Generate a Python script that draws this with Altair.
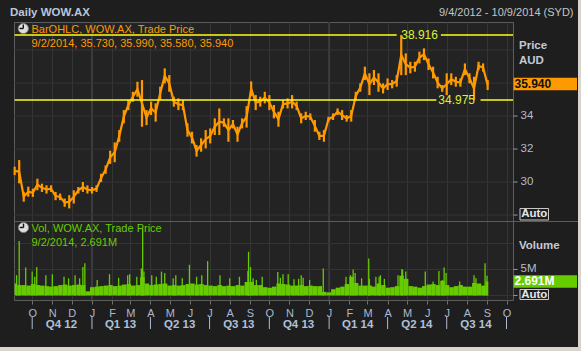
import altair as alt
import pandas as pd

# ---------------- data ----------------
first_week = "2012-09-04"   # weekly sampling of the daily OHLC bars
price_low = [30.42, 29.92, 28.81, 29.11, 29.10, 29.50, 29.40, 29.30, 29.40, 28.90,
             28.90, 28.50, 28.40, 28.70, 29.30, 29.40, 29.30, 29.30, 29.40, 30.00,
             30.50, 31.10, 31.20, 32.44, 33.56, 34.36, 34.87, 35.17, 33.35, 33.45,
             34.06, 33.66, 34.97, 35.98, 35.47, 34.57, 34.36, 34.36, 32.75, 32.34,
             31.54, 31.84, 32.04, 32.34, 32.85, 32.85, 33.35, 32.44, 33.25, 32.44,
             33.25, 33.30, 35.20, 34.36, 34.57, 34.77, 34.36, 33.86, 33.35, 34.46,
             34.46, 34.46, 34.36, 33.56, 33.76, 33.76, 33.05, 32.55, 32.44, 33.66,
             33.76, 34.06, 33.76, 33.66, 33.66, 34.97, 35.47, 36.18, 35.27, 35.88,
             35.47, 35.37, 35.58, 35.68, 35.78, 36.48, 36.48, 36.59, 36.69, 37.19,
             37.39, 36.79, 36.28, 35.68, 35.47, 35.27, 35.88, 35.78, 35.78, 36.48,
             35.98, 34.975, 36.79, 36.69, 35.58]
price_high = [30.93, 31.33, 29.41, 29.72, 29.60, 30.20, 29.90, 29.80, 29.80, 29.40,
              29.30, 29.00, 29.20, 29.50, 29.70, 30.00, 29.80, 29.70, 29.80, 30.50,
              31.00, 31.90, 32.40, 33.15, 34.36, 34.97, 35.47, 36.08, 36.18, 34.36,
              34.87, 34.77, 35.78, 36.89, 36.48, 35.17, 35.07, 34.97, 33.56, 33.05,
              32.24, 32.65, 33.15, 33.25, 33.86, 34.46, 33.86, 33.86, 33.76, 33.35,
              33.86, 34.60, 36.10, 35.27, 35.17, 35.47, 35.27, 34.67, 34.26, 34.97,
              35.07, 35.27, 34.87, 34.16, 34.26, 34.16, 33.76, 33.05, 33.15, 33.96,
              34.16, 34.46, 34.36, 34.06, 34.36, 35.47, 35.98, 36.99, 36.59, 36.79,
              36.59, 35.98, 36.28, 36.18, 36.48, 38.916, 37.80, 37.29, 37.29, 37.90,
              38.10, 37.49, 36.99, 36.38, 35.88, 36.59, 36.59, 36.38, 36.28, 37.19,
              36.59, 36.38, 37.29, 37.19, 36.18]
vol_week = [2.3, 2.0, 2.0, 1.9, 2.2, 2.0, 1.9, 1.8, 1.7, 1.8,
            2.0, 2.1, 1.9, 2.0, 2.1, 2.0, 0.8, 1.6, 1.7, 1.8,
            1.9, 2.0, 1.8, 1.9, 2.1, 2.2, 1.9, 2.0, 3.5, 2.3,
            2.0, 2.1, 2.2, 2.3, 1.9, 2.0, 1.9, 2.0, 2.2, 2.3,
            2.1, 2.2, 2.0, 1.9, 1.8, 2.0, 1.8, 1.9, 1.8, 2.0,
            1.9, 2.6, 2.6, 2.0, 2.0, 1.6, 1.5, 1.7, 2.3, 2.2,
            2.1, 1.9, 1.9, 2.0, 1.8, 1.9, 1.8, 1.8, 0.7, 0.6,
            1.2, 1.5, 1.7, 2.2, 3.6, 2.4, 1.9, 1.9, 1.9, 1.7,
            2.3, 2.0, 1.5, 1.6, 1.8, 3.8, 3.2, 1.8, 1.7, 1.5,
            1.8, 2.1, 2.2, 2.0, 2.8, 2.0, 1.6, 1.8, 2.0, 1.7,
            1.7, 2.4, 2.3, 1.9, 2.691]
spike_dates = ["2012-09-07", "2012-09-11", "2012-09-21", "2012-10-01", "2012-10-05",
               "2012-10-08", "2012-10-22", "2012-11-01", "2012-11-19", "2012-11-26",
               "2012-12-06", "2012-12-13", "2012-12-18", "2012-12-21", "2013-01-09",
               "2013-01-28", "2013-02-11", "2013-02-25", "2013-02-28", "2013-03-11",
               "2013-03-18", "2013-03-20", "2013-03-22", "2013-04-03", "2013-04-10",
               "2013-04-18", "2013-04-23", "2013-05-06", "2013-05-10", "2013-05-20",
               "2013-05-31", "2013-06-11", "2013-06-19", "2013-06-28", "2013-07-17",
               "2013-08-01", "2013-08-16", "2013-08-29", "2013-08-30", "2013-09-02",
               "2013-09-06", "2013-09-11", "2013-09-20", "2013-10-14", "2013-10-18",
               "2013-10-22", "2013-10-30", "2013-11-08", "2013-11-15", "2013-11-19",
               "2013-11-22", "2013-12-02", "2013-12-23", "2014-01-27", "2014-02-03",
               "2014-02-07", "2014-02-10", "2014-02-20", "2014-03-03", "2014-03-04",
               "2014-03-14", "2014-03-19", "2014-03-21", "2014-03-27", "2014-04-17",
               "2014-04-23", "2014-04-24", "2014-04-29", "2014-05-29", "2014-06-10",
               "2014-06-19", "2014-06-24", "2014-06-27", "2014-06-30", "2014-07-21",
               "2014-08-12", "2014-08-15", "2014-08-29", "2014-09-01"]
spike_vol = [3.9, 10.5, 5.4, 4.6, 3.6, 5.5, 3.9, 4.1, 3.6, 3.3,
             3.9, 3.3, 5.5, 6.2, 3.0, 4.1, 3.4, 3.9, 4.1, 3.6,
             5.2, 12.9, 4.6, 3.9, 3.6, 4.6, 4.3, 3.3, 3.9, 3.3,
             5.9, 3.6, 3.9, 6.6, 3.9, 3.3, 3.6, 4.7, 8.4, 5.5,
             3.3, 3.0, 3.6, 4.5, 3.4, 4.1, 4.1, 3.1, 3.2, 3.9,
             3.4, 3.0, 5.2, 3.6, 3.9, 5.0, 4.3, 3.3, 7.1, 3.2,
             3.6, 3.6, 3.9, 3.2, 3.9, 5.1, 4.9, 4.6, 4.6, 2.7,
             4.7, 3.0, 5.4, 4.3, 2.7, 3.9, 3.3, 6.2, 3.8]
price_labels = [30, 32, 34]
price_ticks = [28, 30, 32, 34]
price_grid = [28, 30, 32, 34, 36, 38]
vol_grid = [0, 5, 10]
vol_ticks = [0, 5]
year_starts = ["2013-01-01", "2014-01-01"]
quarter_names = ["Q4 12", "Q1 13", "Q2 13", "Q3 13", "Q4 13", "Q1 14", "Q2 14", "Q3 14"]
quarter_mids = ["2012-11-15", "2013-02-14", "2013-05-16", "2013-08-15",
                "2013-11-15", "2014-02-14", "2014-05-16", "2014-08-15"]
quarter_bounds = ["2012-10-01", "2013-01-01", "2013-04-01", "2013-07-01", "2013-10-01",
                  "2014-01-01", "2014-04-01", "2014-07-01", "2014-10-01"]
hi_value, hi_date = 38.916, "2014-04-22"
lo_value, lo_date = 34.975, "2014-08-12"
hi_gap = ["2014-04-15", "2014-06-22"]
lo_gap = ["2014-06-15", "2014-08-22"]
last_date_label = "9/2/2014"
last_ohlc = [35.730, 35.990, 35.580, 35.940]
last_close = 35.940
last_vol = 2.691
range_start, range_end = "2012-09-04", "2014-09-03"

# ---------------- layout / style ----------------
W, H = 499, 278
FONT = "Liberation Sans"
BG = "#1e1e1e"
ORANGE = "#ff9900"
GREEN = "#66cc00"
YELLOW = "#ffff1a"
YTEXT = "#dcef3a"
GRID = "#353535"
AXT = "#b4bccc"


def dt(s):
    d = pd.Timestamp(s)
    return alt.DateTime(year=d.year, month=d.month, date=d.day, utc=True)


month_starts = pd.date_range("2012-10-01", "2014-10-01", freq="MS")
X_SCALE = alt.Scale(type="utc", domain=[dt("2012-09-03"), dt("2014-10-11")], nice=False)
X_AXIS = alt.Axis(values=[dt(d) for d in month_starts],
                  labelExpr="substring(utcFormat(datum.value, '%b'), 0, 1)",
                  tickSize=4, tickColor="#707070", labelColor="#a9b9d0", labelFont=FONT,
                  labelFontSize=11, labelPadding=3, grid=True, gridColor=GRID,
                  domain=False, title=None, labelOverlap=False, labelFlush=False)
PRICE_SCALE = alt.Scale(domain=[22.85, 39.70], nice=False, zero=False)
VOL_SCALE = alt.Scale(domain=[-0.87, 52.6], nice=False, zero=False)


def X(field):
    return alt.X(field, scale=X_SCALE, axis=X_AXIS)


def PY(field):
    return alt.Y(field, scale=PRICE_SCALE, axis=None)


def VY(field):
    return alt.Y(field, scale=VOL_SCALE, axis=None)


def one(**kw):
    return alt.Chart(pd.DataFrame({k: [v] for k, v in kw.items()}))


weeks = pd.Series(pd.date_range(first_week, periods=len(price_low), freq="7D"))
price_df = pd.DataFrame({"d": weeks.dt.strftime("%Y-%m-%d"), "lo": price_low, "hi": price_high})
v0 = (weeks - pd.Timedelta(days=3)).clip(lower=pd.Timestamp(range_start))
v1 = (weeks + pd.Timedelta(days=4)).clip(upper=pd.Timestamp(range_end))
vol_df = pd.DataFrame({"a": v0.dt.strftime("%Y-%m-%d"), "b": v1.dt.strftime("%Y-%m-%d"), "v": vol_week})
spike_df = pd.DataFrame({"d": spike_dates, "v": spike_vol})

layers = []

# year boundary lines
layers.append(alt.Chart(pd.DataFrame({"d": year_starts})).mark_rule(color="#3c3c3c", strokeWidth=2)
              .encode(x=X("d:T"), y=alt.value(0), y2=alt.value(H)))
# horizontal grids
layers.append(alt.Chart(pd.DataFrame({"v": price_grid})).mark_rule(color=GRID)
              .encode(y=PY("v:Q"), x=alt.value(0), x2=alt.value(W)))
layers.append(alt.Chart(pd.DataFrame({"v": vol_grid})).mark_rule(color=GRID)
              .encode(y=VY("v:Q"), x=alt.value(0), x2=alt.value(W)))
# panel divider
layers.append(one(k=1).mark_rule(color="#5c5c5c")
              .encode(x=alt.value(0), x2=alt.value(564), y=alt.value(199.5)))

# volume
layers.append(alt.Chart(vol_df).mark_rect(color=GREEN)
              .encode(x=X("a:T"), x2="b:T", y=VY("v:Q"), y2=alt.datum(0)))
layers.append(alt.Chart(spike_df).mark_rule(color=GREEN, strokeWidth=1.3)
              .encode(x=X("d:T"), y=VY("v:Q"), y2=alt.datum(0)))

# price: weekly low-high bars joined by a mid-range trace
layers.append(alt.Chart(price_df).transform_calculate(m="(datum.lo + datum.hi) / 2")
              .mark_line(color=ORANGE, strokeWidth=2.2, interpolate="linear")
              .encode(x=X("d:T"), y=PY("m:Q")))
layers.append(alt.Chart(price_df).mark_rule(color=ORANGE, strokeWidth=2.2)
              .encode(x=X("d:T"), y=PY("lo:Q"), y2="hi:Q"))

# high / low reference lines
seg_df = pd.DataFrame({
    "a": [range_start, hi_gap[1], range_start, lo_gap[1]],
    "b": [hi_gap[0], "2014-10-11", lo_gap[0], "2014-10-11"],
    "v": [hi_value, hi_value, lo_value, lo_value]})
layers.append(alt.Chart(seg_df).mark_rule(color=YELLOW, strokeWidth=1.4)
              .encode(x=X("a:T"), x2="b:T", y=PY("v:Q")))
layers.append(alt.Chart(pd.DataFrame({"d": [hi_date], "v": [hi_value]}))
              .mark_text(align="left", baseline="middle", color=YTEXT, font=FONT, fontSize=12, dx=0)
              .encode(x=X("d:T"), y=PY("v:Q"), text=alt.Text("v:Q", format=".3f")))
layers.append(alt.Chart(pd.DataFrame({"d": [lo_date], "v": [lo_value]}))
              .mark_text(align="right", baseline="middle", color=YTEXT, font=FONT, fontSize=12, dx=1)
              .encode(x=X("d:T"), y=PY("v:Q"), text=alt.Text("v:Q", format=".3f")))

# legends inside panels
ohlc_txt = last_date_label + ", " + ", ".join(f"{v:.3f}" for v in last_ohlc)
legend_df = pd.DataFrame({
    "t": ["BarOHLC, WOW.AX, Trade Price", ohlc_txt, "Vol, WOW.AX, Trade Price",
          f"{last_date_label}, {last_vol:.3f}M"],
    "c": [ORANGE, ORANGE, GREEN, GREEN],
    "y": [8, 21.5, 207.3, 220.5]})
layers.append(alt.Chart(legend_df).mark_text(align="left", baseline="middle", font=FONT, fontSize=11)
              .encode(x=alt.value(17.5), y=alt.Y("y:Q", scale=None), text="t:N",
                      color=alt.Color("c:N", scale=None)))
icon_df = pd.DataFrame({"x": [9.3, 9.5], "y": [6.5, 205.5]})
layers.append(alt.Chart(icon_df).mark_circle(size=105, color="#dedede", stroke="#7c7c7c",
                                              strokeWidth=1, opacity=1)
              .encode(x=alt.X("x:Q", scale=None), y=alt.Y("y:Q", scale=None)))
hands_df = pd.DataFrame({"x": [9.3, 9.3, 9.5, 9.5], "x2": [9.3, 5.6, 9.5, 5.8],
                         "y": [6.5, 6.5, 205.5, 205.5], "y2": [2.6, 6.5, 201.6, 205.5]})
layers.append(alt.Chart(hands_df).mark_rule(color="#111111", strokeWidth=1.4)
              .encode(x=alt.X("x:Q", scale=None), x2="x2:Q",
                      y=alt.Y("y:Q", scale=None), y2="y2:Q"))

# right-hand axis
layers.append(alt.Chart(pd.DataFrame({"v": price_ticks})).mark_rule(color="#9a9a9a")
              .encode(y=PY("v:Q"), x=alt.value(499.5), x2=alt.value(503.5)))
layers.append(alt.Chart(pd.DataFrame({"v": vol_ticks})).mark_rule(color="#9a9a9a")
              .encode(y=VY("v:Q"), x=alt.value(499.5), x2=alt.value(503.5)))
layers.append(alt.Chart(pd.DataFrame({"v": price_labels})).mark_text(
    align="left", baseline="middle", color=AXT, font=FONT, fontSize=11.5)
    .encode(y=PY("v:Q"), x=alt.value(506.5), text=alt.Text("v:Q", format="d")))
layers.append(alt.Chart(pd.DataFrame({"v": [5], "t": ["5M"]})).mark_text(
    align="left", baseline="middle", color=AXT, font=FONT, fontSize=11.5)
    .encode(y=VY("v:Q"), x=alt.value(506.5), text="t:N"))
heads = pd.DataFrame({"t": ["Price", "AUD", "Volume"], "y": [24, 39, 224]})
layers.append(alt.Chart(heads).mark_text(align="left", baseline="middle", color="#c4cad6",
                                         font=FONT, fontSize=11.5, fontWeight="bold")
              .encode(x=alt.value(505), y=alt.Y("y:Q", scale=None), text="t:N"))
# last-value badges
layers.append(alt.Chart(pd.DataFrame({"v": [last_close]})).mark_rule(color=ORANGE, strokeWidth=12.5)
              .encode(y=PY("v:Q"), x=alt.value(499.5), x2=alt.value(563)))
layers.append(alt.Chart(pd.DataFrame({"v": [last_close]})).mark_text(
    align="left", baseline="middle", color="#111111", font=FONT, fontSize=12, fontWeight="bold")
    .encode(y=PY("v:Q"), x=alt.value(500.5), text=alt.Text("v:Q", format=".3f")))
layers.append(alt.Chart(pd.DataFrame({"v": [last_vol]})).mark_rule(color=GREEN, strokeWidth=12.5)
              .encode(y=VY("v:Q"), x=alt.value(499.5), x2=alt.value(563)))
layers.append(alt.Chart(pd.DataFrame({"v": [last_vol], "t": [f"{last_vol:.3f}M"]})).mark_text(
    align="left", baseline="middle", color="#ffffff", font=FONT, fontSize=12, fontWeight="bold")
    .encode(y=VY("v:Q"), x=alt.value(500.5), text="t:N"))
# "Auto" buttons
auto_df = pd.DataFrame({"y": [186.5, 267.5], "y2": [198, 277.5], "t": ["Auto", "Auto"]})
layers.append(alt.Chart(auto_df).mark_rect(fill=BG, stroke="#c8c8c8", strokeWidth=1)
              .encode(x=alt.value(506), x2=alt.value(534.5),
                      y=alt.Y("y:Q", scale=None), y2="y2:Q"))
layers.append(alt.Chart(auto_df).transform_calculate(m="(datum.y + datum.y2) / 2")
              .mark_text(align="center", baseline="middle", color="#e6e6e6", font=FONT,
                         fontSize=11.5, fontWeight="bold")
              .encode(x=alt.value(520.3), y=alt.Y("m:Q", scale=None), text="t:N"))

# quarter row
layers.append(alt.Chart(pd.DataFrame({"d": quarter_bounds})).mark_rule(color="#b0bcd0", strokeWidth=1)
              .encode(x=X("d:T"), y=alt.value(H + 17), y2=alt.value(H + 29)))
layers.append(alt.Chart(pd.DataFrame({"d": quarter_mids, "t": quarter_names})).mark_text(
    align="center", baseline="middle", color="#b0c0d8", font=FONT, fontSize=11.5, fontWeight="bold")
    .encode(x=X("d:T"), y=alt.value(H + 25), text="t:N"))

# header texts
layers.append(one(t="Daily WOW.AX").mark_text(align="left", baseline="middle", color="#b9c6da",
                                              font=FONT, fontSize=11.5, fontWeight="bold")
              .encode(x=alt.value(-4), y=alt.value(-9.5), text="t:N"))
layers.append(one(t="9/4/2012 - 10/9/2014 (SYD)").mark_text(
    align="right", baseline="middle", color="#c4c4c4", font=FONT, fontSize=11)
    .encode(x=alt.value(559.5), y=alt.value(-9.5), text="t:N"))

# light window frame at right / bottom edges
frame = pd.DataFrame({"x": [564, -14], "x2": [567, 567], "y": [-22, 325], "y2": [329, 329]})
layers.append(alt.Chart(frame).mark_rect(color="#d8d5cf")
              .encode(x=alt.X("x:Q", scale=None), x2="x2:Q",
                      y=alt.Y("y:Q", scale=None), y2="y2:Q"))

chart = (alt.layer(*layers)
         .resolve_scale(y="independent")
         .properties(width=W, height=H,
                     padding={"left": 14, "top": 22, "right": 68, "bottom": 51},
                     autosize=alt.AutoSizeParams(type="none"),
                     background=BG)
         .configure_view(stroke="#5c5c5c", strokeWidth=1, fill="#232323"))

chart.save("out.html", embed_options={"renderer": "svg", "actions": False})
